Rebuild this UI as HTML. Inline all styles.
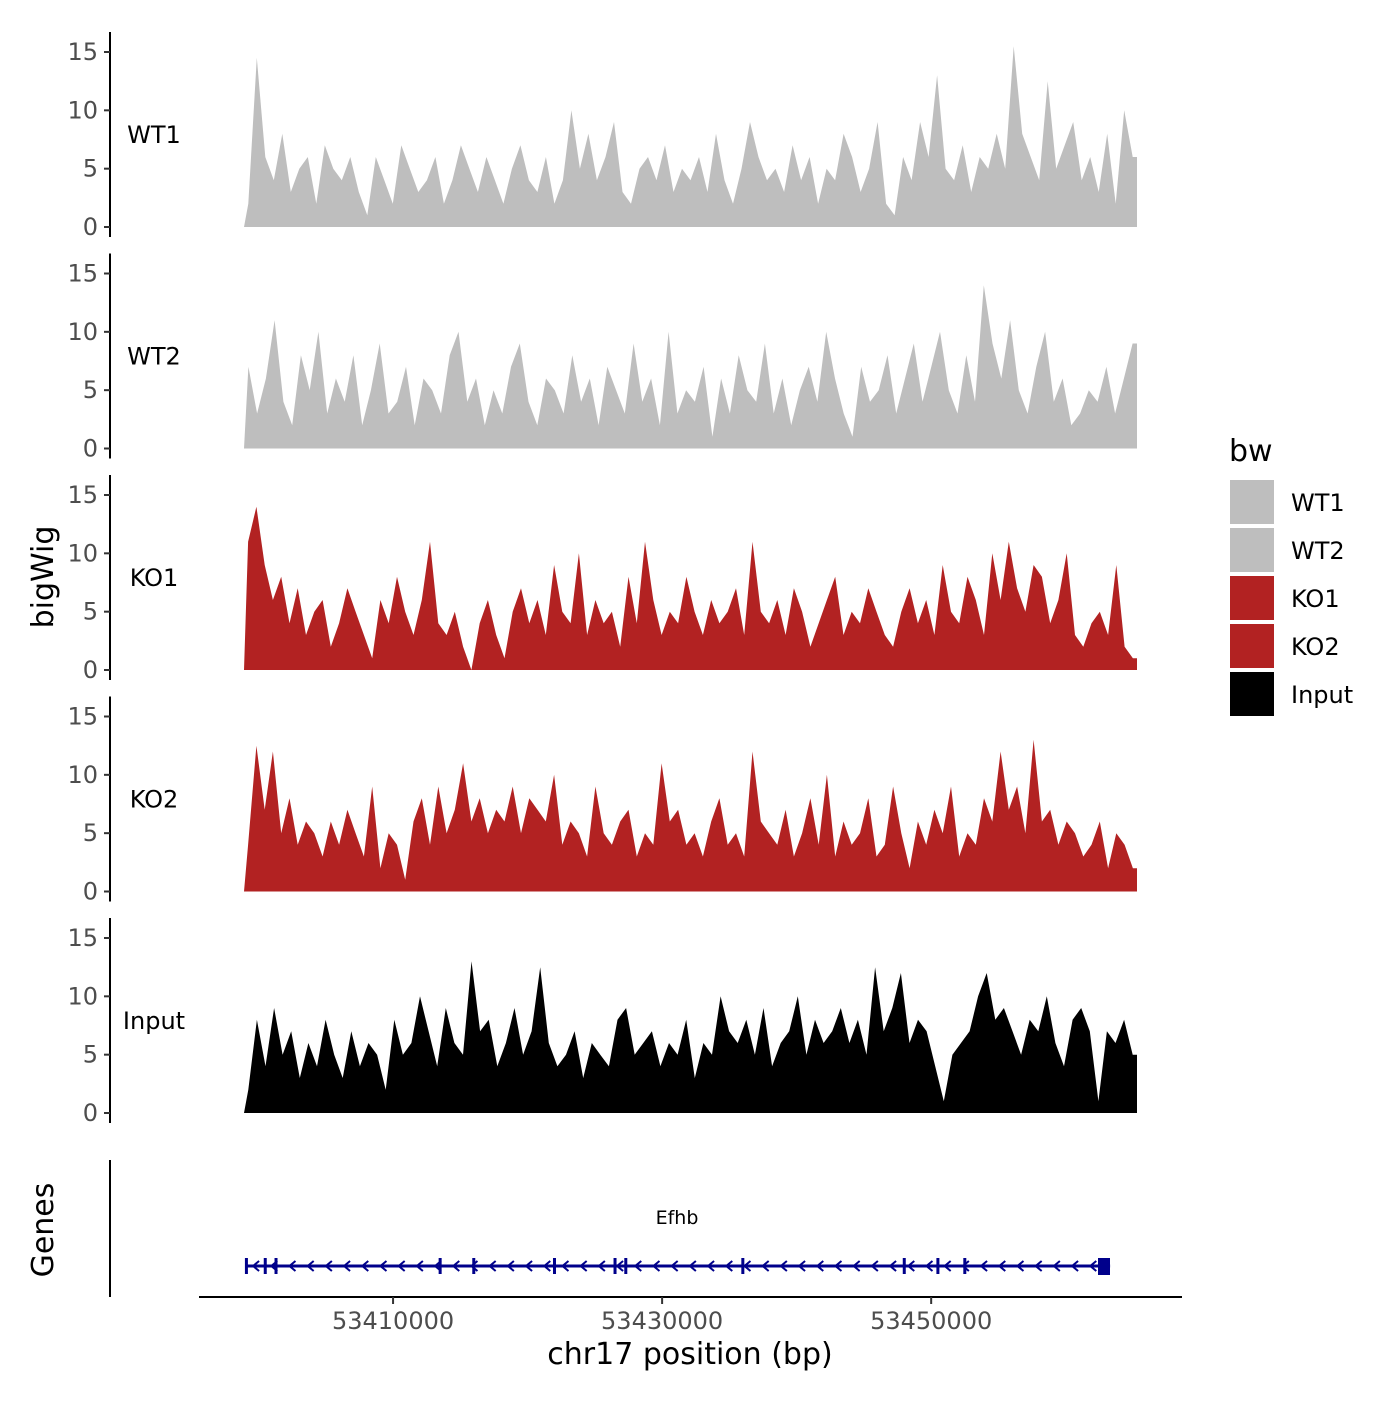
<!DOCTYPE html>
<html><head><meta charset="utf-8"><style>
body{margin:0;background:#fff;}
svg text{font-family:"DejaVu Sans","Liberation Sans",sans-serif;}
</style></head><body>
<svg id="c" width="1400" height="1400" xmlns="http://www.w3.org/2000/svg"></svg>
<script>
const trackNames=["WT1","WT2","KO1","KO2","Input"];
const trackColors=["#bebebe","#bebebe","#b22222","#b22222","#000000"];
const wt1=[2,14.5,6,4,8,3,5,6,2,7,5,4,6,3,1,6,4,2,7,5,3,4,6,2,4,7,5,3,6,4,2,5,7,4,3,6,2,4,10,5,8,4,6,9,3,2,5,6,4,7,3,5,4,6,3,8,4,2,5,9,6,4,5,3,7,4,6,2,5,4,8,6,3,5,9,2,1,6,4,9,6,13,5,4,7,3,6,5,8,5,15.5,8,6,4,12.5,5,7,9,4,6,3,8,2,10,6];
const wt2=[7,3,6,11,4,2,8,5,10,3,6,4,8,2,5,9,3,4,7,2,6,5,3,8,10,4,6,2,5,3,7,9,4,2,6,5,3,8,4,6,2,7,5,3,9,4,6,2,10,3,5,4,7,1,6,3,8,5,4,9,3,6,2,5,7,4,10,6,3,1,7,4,5,8,3,6,9,4,7,10,5,3,8,4,14,9,6,11,5,3,7,10,4,6,2,3,5,4,7,3,6,9];
const ko1=[11,14,9,6,8,4,7,3,5,6,2,4,7,5,3,1,6,4,8,5,3,6,11,4,3,5,2,0,4,6,3,1,5,7,4,6,3,9,5,4,10,3,6,4,5,2,8,4,11,6,3,5,4,8,5,3,6,4,5,7,3,11,5,4,6,3,7,5,2,4,6,8,3,5,4,7,5,3,2,5,7,4,6,3,9,5,4,8,6,3,10,6,11,7,5,9,8,4,6,10,3,2,4,5,3,9,2,1];
const ko2=[4,12.5,7,12,5,8,4,6,5,3,6,4,7,5,3,9,2,5,4,1,6,8,4,9,5,7,11,6,8,5,7,6,9,5,8,7,6,10,4,6,5,3,9,5,4,6,7,3,5,4,11,6,7,4,5,3,6,8,4,5,3,12,6,5,4,7,3,5,8,4,10,3,6,4,5,8,3,4,9,5,2,6,4,7,5,9,3,5,4,8,6,12,7,9,5,13,6,7,4,6,5,3,4,6,2,5,4,2];
const inp=[2,8,4,9,5,7,3,6,4,8,5,3,7,4,6,5,2,8,5,6,10,7,4,9,6,5,13,7,8,4,6,9,5,7,12.5,6,4,5,7,3,6,5,4,8,9,5,6,7,4,6,5,8,3,6,5,10,7,6,8,5,9,4,6,7,10,5,8,6,7,9,6,8,5,12.5,7,9,12,6,8,7,4,1,5,6,7,10,12,8,9,7,5,8,7,10,6,4,8,9,7,1,7,6,8,5];
const seriesData=[wt1,wt2,ko1,ko2,inp];
const axisTicks=[0,5,10,15];
const xTicks=[53410000,53430000,53450000];
const regionStart=53398920, regionEnd=53465300;
const geneStart=53399000, geneEnd=53463300;
const exons=[53399100,53400500,53401300,53413500,53416000,53422000,53426500,53427300,53436000,53448000,53450500,53452500,53463000];

const NS="http://www.w3.org/2000/svg";
const svg=document.getElementById('c');
function el(t,a,p){const e=document.createElementNS(NS,t);for(const k in a)e.setAttribute(k,a[k]);(p||svg).appendChild(e);return e;}
const xPx=bp=>244+(bp-regionStart)/(regionEnd-regionStart)*893;
const panelTop0=227, panelStep=221.5, pxPerUnit=175/15;

seriesData.forEach((vals,ti)=>{
  const base=panelTop0+ti*panelStep;
  const y=v=>base-v*pxPerUnit;
  const g=el('g',{});
  
  
  const ax=el('line',{x1:110,x2:110,y1:base-195,y2:base+10,stroke:'#000','stroke-width':2},g);
  
  
  axisTicks.forEach(t=>{
    el('line',{x1:104,x2:110,y1:y(t),y2:y(t),stroke:'#333','stroke-width':2},g);
    const tx=el('text',{x:98,y:y(t)+8,'text-anchor':'end','font-size':24,fill:'#4d4d4d'},g);
    tx.textContent=t;
    
    
  });
  const lab=el('text',{x:154,y:base-84,'text-anchor':'middle','font-size':24,fill:'#000'},g);
  lab.textContent=trackNames[ti];
  
  
  const n=vals.length;
  let d='M244,'+base;
  vals.forEach((v,i)=>{
    const bp=regionStart+(i+0.5)/n*(regionEnd-regionStart);
    d+=' L'+xPx(bp).toFixed(1)+','+y(v).toFixed(1);
  });
  d+=' L1137,'+y(vals[n-1]).toFixed(1)+' L1137,'+base+' Z';
  const a=el('path',{d:d,fill:trackColors[ti],stroke:'none'},g);
  
  
});
const yt=el('text',{x:0,y:0,transform:'translate(53,577) rotate(-90)','text-anchor':'middle','font-size':30});
yt.textContent='bigWig';



const gg=el('g',{});


el('line',{x1:110,x2:110,y1:1160,y2:1297,stroke:'#000','stroke-width':2},gg);
el('line',{x1:199,x2:1182,y1:1297,y2:1297,stroke:'#000','stroke-width':2},gg);
const gt=el('text',{x:0,y:0,transform:'translate(53,1230) rotate(-90)','text-anchor':'middle','font-size':30},gg);
gt.textContent='Genes';


xTicks.forEach(t=>{
  el('line',{x1:xPx(t),x2:xPx(t),y1:1297,y2:1304,stroke:'#333','stroke-width':2},gg);
  const tx=el('text',{x:xPx(t),y:1329,'text-anchor':'middle','font-size':24,fill:'#4d4d4d'},gg);
  tx.textContent=t;
  
  
});
const xt=el('text',{x:690,y:1364,'text-anchor':'middle','font-size':30},gg);
xt.textContent='chr17 position (bp)';


const gs=xPx(geneStart), ge=xPx(geneEnd);
const gl=el('line',{x1:gs,x2:ge,y1:1266,y2:1266,stroke:'#00008b','stroke-width':3},gg);


for(let x=gs+10;x<ge-10;x+=18.2){el('path',{d:`M${x+4},${1261} L${x-2},1266 L${x+4},1271`,fill:'none',stroke:'#00008b','stroke-width':2},gg);}
exons.forEach(e=>{const x=xPx(e);el('rect',{x:x-1.5,y:1258,width:3,height:16,fill:'#00008b'},gg);});
el('rect',{x:1098,y:1258,width:12,height:17,fill:'#00008b'},gg);
const gn=el('text',{x:677,y:1224,'text-anchor':'middle','font-size':19},gg);
gn.textContent='Efhb';



const lg=el('g',{});


const lt=el('text',{x:1229,y:461,'font-size':30},lg);
lt.textContent='bw';
const legendColors=["#bebebe","#bebebe","#b22222","#b22222","#000000"];
trackNames.forEach((n,i)=>{
  const r=el('rect',{x:1230,y:480+i*48,width:44,height:44,fill:legendColors[i]},lg);
  
  
  const t=el('text',{x:1291,y:511+i*48,'font-size':24},lg);
  t.textContent=n;
  
  
});
</script>
</body></html>
